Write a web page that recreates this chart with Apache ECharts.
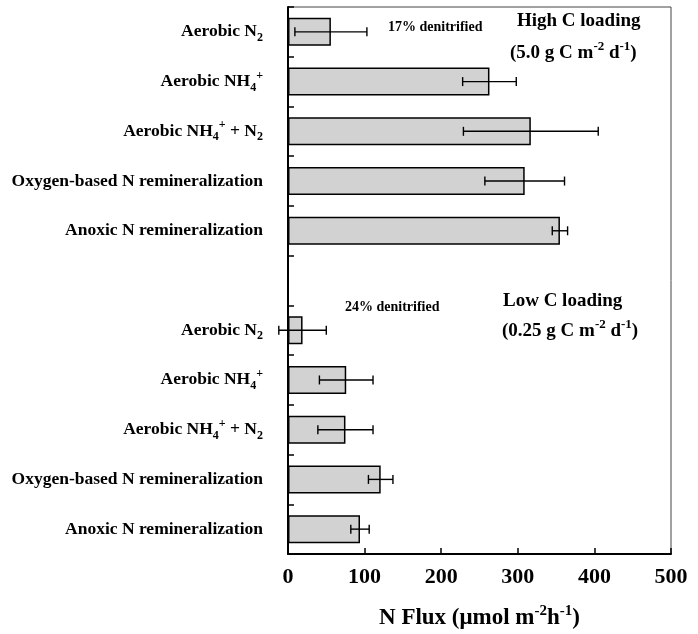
<!DOCTYPE html>
<html><head><meta charset="utf-8">
<script src="https://cdn.jsdelivr.net/npm/echarts@6/dist/echarts.min.js"></script>
<style>html,body{margin:0;padding:0;background:#fff}#c{width:698px;height:634px}</style>
</head><body><div id="c"></div>
<script>
// Categories top to bottom (blank slot separates the two loading groups)
const categories = [
  'Aerobic N2', 'Aerobic NH4+', 'Aerobic NH4+ + N2', 'Oxygen-based N remineralization', 'Anoxic N remineralization',
  '',
  'Aerobic N2', 'Aerobic NH4+', 'Aerobic NH4+ + N2', 'Oxygen-based N remineralization', 'Anoxic N remineralization'
];
// N flux (µmol m-2 h-1)
const fluxValues = [56, 263, 317, 309, 355, null, 19, 76, 75, 121, 94];
const fluxErrors = [47, 35, 88, 52, 10, null, 31, 35, 36, 16, 12];
const xTicks = [0, 100, 200, 300, 400, 500];

const FONT = 'Liberation Serif';
const labelRich = {
  'Aerobic N2': 'Aerobic N{sub|2}',
  'Aerobic NH4+': 'Aerobic NH{sub|4}{sup|+}',
  'Aerobic NH4+ + N2': 'Aerobic NH{sub|4}{sup|+} + N{sub|2}'
};
function richStyles(small) {
  return {
    sub: { fontFamily: FONT, fontWeight: 'bold', fontSize: small, lineHeight: small, verticalAlign: 'bottom', color: '#000' },
    sup: { fontFamily: FONT, fontWeight: 'bold', fontSize: small, lineHeight: small, verticalAlign: 'top', color: '#000' }
  };
}

const errData = [];
fluxValues.forEach((v, i) => { if (v != null) errData.push([v, i, fluxErrors[i]]); });

const chart = echarts.init(document.getElementById('c'), null, { renderer: 'canvas' });
chart.setOption({
  animation: false,
  backgroundColor: '#fff',
  grid: { left: 288, right: 27, top: 7, bottom: 80, show: true, borderColor: '#444', borderWidth: 1, containLabel: false, outerBoundsMode: 'none' },
  xAxis: {
    type: 'value', min: xTicks[0], max: xTicks[xTicks.length - 1], interval: 100,
    axisLine: { show: true, lineStyle: { color: '#000', width: 2 } },
    axisTick: { show: true, inside: true, length: 6, lineStyle: { color: '#000', width: 1.5 } },
    splitLine: { show: false },
    axisLabel: { fontFamily: FONT, fontWeight: 'bold', fontSize: 22, color: '#000', margin: 12 },
    name: 'N Flux (μmol m{sup|-2}h{sup|-1})',
    nameLocation: 'middle', nameGap: 50,
    nameTextStyle: {
      fontFamily: FONT, fontWeight: 'bold', fontSize: 23, lineHeight: 28, color: '#000',
      rich: { sup: { fontFamily: FONT, fontWeight: 'bold', fontSize: 15, lineHeight: 15, verticalAlign: 'top', color: '#000' } }
    }
  },
  yAxis: {
    type: 'category', inverse: true, data: categories,
    axisLine: { show: true, lineStyle: { color: '#000', width: 2 } },
    axisTick: { show: true, inside: true, length: 6, interval: 0, lineStyle: { color: '#000', width: 1.5 } },
    splitLine: { show: false },
    axisLabel: {
      interval: 0, margin: 25, fontFamily: FONT, fontWeight: 'bold', fontSize: 17.5, lineHeight: 24, color: '#000',
      formatter: (v) => labelRich[v] || v,
      rich: richStyles(12)
    }
  },
  series: [
    {
      type: 'bar', data: fluxValues, barWidth: 28,
      itemStyle: { color: '#d2d2d2', borderColor: '#000', borderWidth: 1.5 },
      z: 2
    },
    {
      type: 'custom', data: errData, encode: { x: 0, y: 1 }, clip: false, z: 3,
      renderItem: function (params, api) {
        const v = api.value(0), i = api.value(1), e = api.value(2);
        const p0 = api.coord([v - e, i]), p1 = api.coord([v + e, i]);
        const h = 4.5, st = { stroke: '#000', lineWidth: 1.4 };
        return {
          type: 'group', children: [
            { type: 'line', shape: { x1: p0[0], y1: p0[1], x2: p1[0], y2: p1[1] }, style: st },
            { type: 'line', shape: { x1: p0[0], y1: p0[1] - h, x2: p0[0], y2: p0[1] + h }, style: st },
            { type: 'line', shape: { x1: p1[0], y1: p1[1] - h, x2: p1[0], y2: p1[1] + h }, style: st }
          ]
        };
      }
    }
  ],
  graphic: [
    { type: 'text', left: 388, top: 20, style: { text: '17% denitrified', fontFamily: FONT, fontWeight: 'bold', fontSize: 14, fill: '#000' } },
    { type: 'text', left: 345, top: 300, style: { text: '24% denitrified', fontFamily: FONT, fontWeight: 'bold', fontSize: 14, fill: '#000' } },
    { type: 'text', left: 517, top: 12, style: { text: 'High C loading', fontFamily: FONT, fontWeight: 'bold', fontSize: 19, fill: '#000' } },
    { type: 'text', left: 510, top: 40, style: {
      text: '(5.0 g C m{sup|-2} d{sup|-1})', fontFamily: FONT, fontWeight: 'bold', fontSize: 19, lineHeight: 26, fill: '#000',
      rich: { sup: { fontFamily: FONT, fontWeight: 'bold', fontSize: 13, lineHeight: 13, verticalAlign: 'top', fill: '#000' } } } },
    { type: 'text', left: 503, top: 292, style: { text: 'Low C loading', fontFamily: FONT, fontWeight: 'bold', fontSize: 19, fill: '#000' } },
    { type: 'text', left: 502, top: 318, style: {
      text: '(0.25 g C m{sup|-2} d{sup|-1})', fontFamily: FONT, fontWeight: 'bold', fontSize: 19, lineHeight: 26, fill: '#000',
      rich: { sup: { fontFamily: FONT, fontWeight: 'bold', fontSize: 13, lineHeight: 13, verticalAlign: 'top', fill: '#000' } } } }
  ]
});
</script></body></html>
